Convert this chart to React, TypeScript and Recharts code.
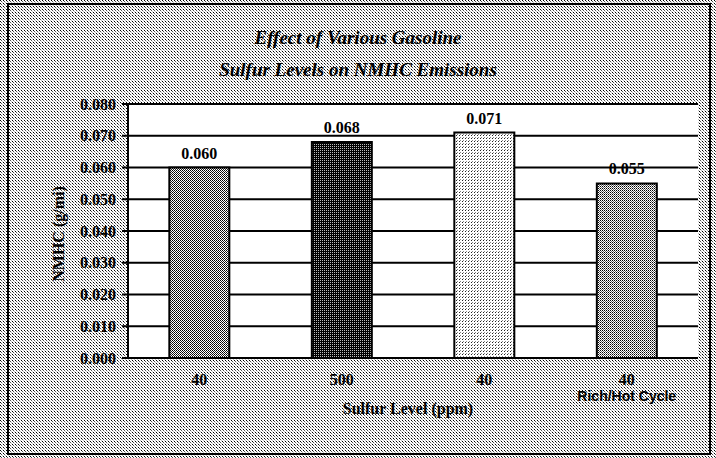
import React from "react";
import { BarChart, Bar, XAxis, YAxis, CartesianGrid, Cell, LabelList, Label } from "recharts";

const titleLines = ["Effect of Various Gasoline", "Sulfur Levels on NMHC Emissions"];
const categories = ["40", "500", "40", "40"];
const subLabels = ["", "", "", "Rich/Hot Cycle"];
const values = [0.06, 0.068, 0.071, 0.055];
const yTicks = [0, 0.01, 0.02, 0.03, 0.04, 0.05, 0.06, 0.07, 0.08];
const xTitle = "Sulfur Level (ppm)";
const yTitle = "NMHC (g/mi)";
const patternIds = ["p1", "p2", "p3", "p4"];

const data = categories.map((c, i) => ({ id: i, cat: c, value: values[i] }));

const SERIF = "'Liberation Serif', 'DejaVu Serif', serif";
const SANS = "'Liberation Sans', Arial, sans-serif";

const bgUri =
  "url(\"data:image/svg+xml;utf8,<svg xmlns='http://www.w3.org/2000/svg' width='3' height='3' shape-rendering='crispEdges'><rect width='3' height='3' fill='white'/><rect width='1' height='1' fill='black'/><rect x='1' y='1' width='1' height='1' fill='%23555'/><rect x='2' y='2' width='1' height='1' fill='%23bbb'/></svg>\")";

const XTick = (props: any) => {
  const { x, y, payload } = props;
  const i = payload.value;
  return (
    <g>
      <text x={x} y={y + 19} textAnchor="middle" fontFamily={SERIF} fontWeight="bold" fontSize={16} fill="#000">
        {categories[i]}
      </text>
      {subLabels[i] ? (
        <text x={x} y={y + 35} textAnchor="middle" fontFamily={SANS} fontWeight="bold" fontSize={14} fill="#000">
          {subLabels[i]}
        </text>
      ) : null}
    </g>
  );
};

export default function App() {
  return (
    <div
      style={{
        position: "absolute",
        left: 0,
        top: 0,
        width: 716,
        height: 458,
        backgroundImage: bgUri,
        overflow: "hidden",
      }}
    >
      <svg width={0} height={0} style={{ position: "absolute" }}>
        <defs>
          <pattern id="p1" width="2" height="2" patternUnits="userSpaceOnUse">
            <rect width="2" height="2" fill="#fff" />
            <rect x="0" y="0" width="1" height="1" fill="#000" />
            <rect x="1" y="1" width="1" height="1" fill="#222" />
          </pattern>
          <pattern id="p2" width="2" height="2" patternUnits="userSpaceOnUse">
            <rect width="2" height="2" fill="#000" />
            <rect x="0" y="0" width="1" height="1" fill="#bbb" />
          </pattern>
          <pattern id="p3" width="3" height="3" patternUnits="userSpaceOnUse">
            <rect width="3" height="3" fill="#fff" />
            <rect x="0" y="0" width="1" height="1" fill="#222" />
            <rect x="1" y="2" width="1" height="1" fill="#888" />
          </pattern>
          <pattern id="p4" width="2" height="2" patternUnits="userSpaceOnUse">
            <rect width="2" height="2" fill="#fff" />
            <rect x="0" y="0" width="1" height="1" fill="#000" />
            <rect x="1" y="1" width="1" height="1" fill="#666" />
          </pattern>
        </defs>
      </svg>
      <div
        style={{
          position: "absolute",
          left: 7,
          top: 3,
          width: 704,
          height: 452,
          border: "2px solid #000",
          boxSizing: "border-box",
        }}
      />
      {titleLines.map((t, i) => (
        <div
          key={i}
          style={{
            position: "absolute",
            left: 0,
            width: 716,
            top: 27 + i * 32,
            textAlign: "center",
            fontFamily: SERIF,
            fontWeight: "bold",
            fontStyle: "italic",
            fontSize: 19,
            lineHeight: "22px",
            color: "#000",
          }}
        >
          {t}
        </div>
      ))}
      <div style={{ position: "absolute", left: 0, top: 0 }}>
        <BarChart
          width={716}
          height={458}
          data={data}
          margin={{ top: 104, right: 18, bottom: 70, left: 68 }}
          barCategoryGap="29%"
        >
          <CartesianGrid
            yAxisId="left"
            vertical={false}
            stroke="#000"
            strokeWidth={2}
            fill="#fff"
            fillOpacity={1}
          />
          <XAxis
            dataKey="id"
            type="category"
            height={30}
            tick={<XTick />}
            tickLine={false}
            axisLine={{ stroke: "#000", strokeWidth: 2 }}
            interval={0}
          >
            <Label
              content={(p: any) => {
                const vb = p.viewBox || {};
                return (
                  <text
                    x={vb.x + vb.width / 2 - 5}
                    y={vb.y + 56}
                    textAnchor="middle"
                    fontFamily={SERIF}
                    fontWeight="bold"
                    fontSize={16}
                    fill="#000"
                  >
                    {xTitle}
                  </text>
                );
              }}
            />
          </XAxis>
          <YAxis
            yAxisId="left"
            domain={[0, 0.08]}
            ticks={yTicks}
            interval={0}
            width={60}
            tickSize={6}
            tickMargin={6}
            tickFormatter={(v: number) => v.toFixed(3)}
            tick={{ fontFamily: SERIF, fontWeight: "bold", fontSize: 16, fill: "#000" }}
            tickLine={{ stroke: "#000", strokeWidth: 2 }}
            axisLine={{ stroke: "#000", strokeWidth: 2 }}
          >
            <Label
              content={(p: any) => {
                const vb = p.viewBox || {};
                const cx = vb.x - 10;
                const cy = vb.y + vb.height / 2 + 3;
                return (
                  <text
                    x={cx}
                    y={cy}
                    transform={`rotate(-90 ${cx} ${cy})`}
                    textAnchor="middle"
                    dominantBaseline="central"
                    fontFamily={SERIF}
                    fontWeight="bold"
                    fontSize={16}
                    fill="#000"
                  >
                    {yTitle}
                  </text>
                );
              }}
            />
          </YAxis>
          <YAxis
            yAxisId="right"
            orientation="right"
            domain={[0, 0.08]}
            width={0}
            tick={false}
            tickLine={false}
            axisLine={{ stroke: "#000", strokeWidth: 2 }}
          />
          <Bar yAxisId="left" dataKey="value" isAnimationActive={false} stroke="#000" strokeWidth={2}>
            {data.map((d, i) => (
              <Cell key={i} fill={`url(#${patternIds[i]})`} />
            ))}
            <LabelList
              dataKey="value"
              position="top"
              offset={9}
              formatter={(v: any) => Number(v).toFixed(3)}
              style={{ fontFamily: SERIF, fontWeight: "bold", fontSize: 16, fill: "#000" }}
            />
          </Bar>
        </BarChart>
      </div>
    </div>
  );
}
